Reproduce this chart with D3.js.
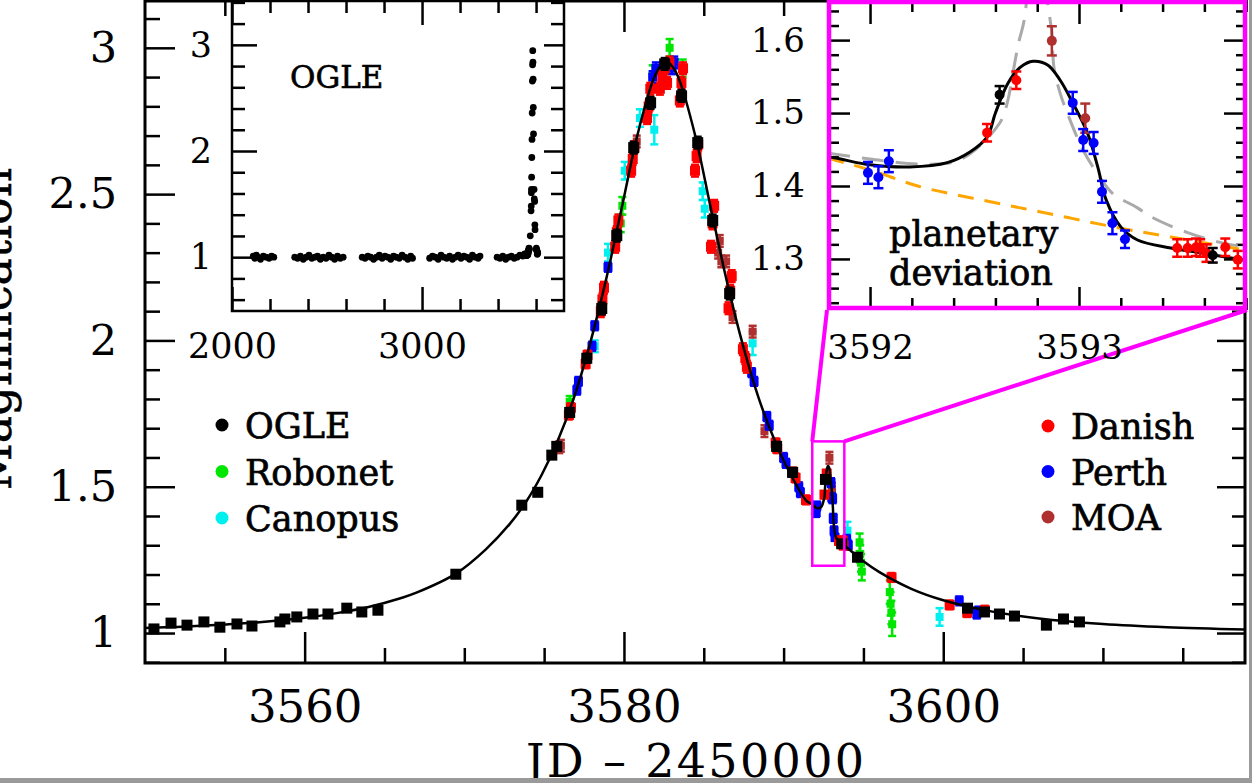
<!DOCTYPE html>
<html><head><meta charset="utf-8">
<script src="https://cdn.jsdelivr.net/npm/d3@7"></script>
<style>body{margin:0;background:#fff;overflow:hidden}svg{display:block}text{font-family:"DejaVu Serif",serif}</style>
</head><body><svg id="c" width="1252" height="783"></svg>
<script>
// ---------- DATA ----------
// OGLE (main event), [day, magnification, error]
const ogle = [[3550.56,1.014,0.01],[3551.63,1.034,0.01],[3552.63,1.027,0.01],[3553.69,1.038,0.01],[3554.69,1.020,0.01],[3555.76,1.031,0.01],[3556.70,1.024,0.01],[3558.45,1.038,0.01],[3558.76,1.048,0.01],[3559.51,1.055,0.01],[3560.52,1.065,0.01],[3561.46,1.065,0.01],[3562.64,1.085,0.01],[3563.58,1.072,0.01],[3564.59,1.078,0.01],[3569.47,1.201,0.01],[3573.60,1.437,0.012],[3574.60,1.481,0.012],[3575.48,1.608,0.012],[3575.79,1.638,0.012],[3576.60,1.754,0.015],[3577.67,1.939,0.015],[3578.61,2.109,0.02],[3579.55,2.358,0.02],[3580.61,2.659,0.02],[3581.67,2.812,0.02],[3582.55,2.945,0.02],[3583.61,2.836,0.02],[3584.62,2.676,0.02],[3585.56,2.410,0.02],[3586.62,2.160,0.02],[3589.56,1.638,0.015],[3590.56,1.549,0.015],[3592.62,1.525,0.012],[3593.64,1.305,0.01],[3594.63,1.259,0.01],[3601.52,1.085,0.01],[3602.58,1.072,0.01],[3603.52,1.065,0.01],[3604.46,1.058,0.01],[3606.46,1.027,0.01],[3607.53,1.048,0.01],[3608.53,1.038,0.01]];
const danish = [[3576.55,1.745,0.015],[3576.68,1.77,0.015],[3577.6,1.92,0.015],[3577.72,1.95,0.015],[3578.55,2.10,0.02],[3578.65,2.14,0.02],[3578.75,2.18,0.02],[3579.45,2.32,0.02],[3579.55,2.37,0.02],[3579.65,2.41,0.02],[3580.45,2.58,0.02],[3580.55,2.62,0.02],[3580.65,2.66,0.02],[3581.45,2.76,0.02],[3581.55,2.80,0.02],[3581.65,2.86,0.02],[3582.25,2.86,0.02],[3582.4,2.90,0.02],[3582.55,2.93,0.02],[3582.7,2.88,0.02],[3582.85,2.95,0.02],[3583.5,2.82,0.02],[3583.6,2.88,0.02],[3583.7,2.93,0.02],[3584.45,2.58,0.02],[3584.55,2.63,0.02],[3584.65,2.67,0.02],[3585.45,2.32,0.02],[3585.55,2.40,0.02],[3585.65,2.46,0.02],[3586.55,2.11,0.02],[3586.65,2.17,0.02],[3586.75,2.22,0.02],[3587.45,1.97,0.02],[3587.6,1.94,0.02],[3587.7,1.91,0.02],[3589.5,1.65,0.015],[3589.6,1.63,0.015],[3590.6,1.55,0.015],[3590.75,1.53,0.015],[3591.4,1.455,0.015],[3592.56,1.473,0.012],[3592.70,1.545,0.012],[3593.47,1.315,0.012],[3593.52,1.315,0.012],[3593.56,1.316,0.012],[3593.58,1.315,0.012],[3593.61,1.308,0.012],[3593.70,1.316,0.012],[3593.76,1.299,0.012],[3596.76,1.19,0.015],[3600.4,1.096,0.015],[3601.5,1.07,0.015],[3602.6,1.078,0.015]];
const perth = [[3577.05,1.83,0.015],[3577.15,1.86,0.015],[3578.0,1.98,0.015],[3578.17,2.05,0.015],[3579.0,2.25,0.015],[3581.8,2.90,0.02],[3582.0,2.93,0.02],[3583.0,2.93,0.02],[3583.15,2.95,0.02],[3588.0,1.89,0.015],[3588.15,1.86,0.015],[3588.95,1.74,0.015],[3589.1,1.71,0.015],[3590.0,1.60,0.015],[3590.15,1.58,0.015],[3590.95,1.50,0.015],[3591.05,1.48,0.015],[3591.99,1.418,0.015],[3592.04,1.412,0.015],[3592.09,1.434,0.015],[3592.97,1.514,0.015],[3593.02,1.463,0.015],[3593.07,1.459,0.015],[3593.11,1.392,0.015],[3593.16,1.349,0.015],[3593.22,1.327,0.012],[3593.95,1.32,0.015],[3594.05,1.30,0.015],[3601.0,1.11,0.015],[3602.1,1.065,0.015],[3602.2,1.075,0.015]];
const robonet = [[3576.6,1.79,0.02],[3579.8,2.40,0.03],[3579.9,2.46,0.03],[3581.8,2.91,0.03],[3582.86,3.00,0.03],[3583.68,2.93,0.03],[3594.76,1.31,0.03],[3594.8,1.27,0.03],[3594.85,1.24,0.03],[3594.9,1.21,0.03],[3596.65,1.14,0.04],[3596.7,1.10,0.04],[3596.75,1.07,0.04],[3596.8,1.03,0.04]];
const canopus = [[3578.17,1.98,0.02],[3579.0,2.30,0.03],[3580.05,2.58,0.03],[3581.0,2.76,0.03],[3581.9,2.72,0.05],[3584.93,2.51,0.03],[3585.06,2.45,0.03],[3588.06,1.99,0.04],[3594.0,1.35,0.03],[3599.77,1.055,0.03]];
const moa = [[3575.95,1.635,0.02],[3576.05,1.64,0.02],[3580.8,2.68,0.02],[3585.9,2.30,0.02],[3586.0,2.34,0.02],[3586.1,2.27,0.02],[3586.4,2.27,0.02],[3586.8,2.08,0.02],[3588.06,2.03,0.02],[3588.8,1.69,0.02],[3592.87,1.599,0.02],[3593.03,1.493,0.02]];

// model curves
const modelDay = [3550,3552,3555,3557,3560,3562,3564,3566,3567,3569.5,3571.35,3572.85,3573.85,3574.85,3575.85,3576.85,3577.85,3578.85,3579.85,3580.85,3581.85,3582.25,3582.65,3583.05,3583.45,3584.45,3585.45,3586.45,3587.45,3588.45,3589.45,3590.45,3591.45,3591.80,3592.00,3592.19,3592.37,3592.48,3592.56,3592.60,3592.66,3592.72,3592.78,3592.85,3592.91,3592.97,3593.04,3593.09,3593.13,3593.20,3593.28,3593.44,3593.59,3593.78,3594,3595,3596,3598,3600,3603,3606,3610,3614,3619];
const modelMag = [1.017,1.021,1.029,1.036,1.052,1.068,1.089,1.119,1.138,1.204,1.286,1.373,1.447,1.541,1.657,1.801,1.984,2.201,2.450,2.703,2.893,2.935,2.955,2.935,2.893,2.703,2.450,2.201,1.984,1.801,1.657,1.541,1.451,1.440,1.429,1.426,1.432,1.447,1.467,1.500,1.541,1.563,1.571,1.566,1.545,1.514,1.473,1.426,1.381,1.344,1.326,1.315,1.308,1.299,1.291,1.245,1.208,1.151,1.112,1.074,1.050,1.031,1.020,1.012];
const pointLensDay = [3591.80,3592.00,3592.24,3592.48,3592.72,3592.96,3593.20,3593.44,3593.80];
const pointLensMag = [1.438,1.422,1.399,1.384,1.370,1.356,1.342,1.330,1.312];
const altModelDay = [3591.80,3592.00,3592.24,3592.43,3592.62,3592.66,3592.68,3592.71,3592.74,3592.79,3592.85,3592.87,3592.88,3592.91,3592.94,3593.02,3593.10,3593.16,3593.28,3593.35,3593.52,3593.67,3593.80];
const altModelMag = [1.445,1.437,1.430,1.436,1.486,1.518,1.549,1.595,1.631,1.80,1.651,1.61,1.563,1.527,1.503,1.449,1.412,1.390,1.370,1.357,1.336,1.323,1.316];

// OGLE baseline seasons (inset)
const baseDay = [2112,2120,2128,2136,2150,2165,2180,2195,2208,2220,
 2330,2345,2360,2375,2390,2405,2420,2435,2450,2465,2480,2495,2510,2525,2540,2555,2570,2585,
 2685,2700,2715,2730,2745,2760,2775,2790,2805,2820,2835,2850,2865,2880,2895,2910,2925,2940,2950,
 3040,3055,3070,3085,3100,3115,3130,3145,3160,3175,3190,3205,3220,3235,3250,3265,3280,3295,3305,
 3395,3410,3425,3440,3455,3470,3485,3500,3515,3530,3540];
const baseMag = [1.01,0.99,1.02,1.00,0.98,1.01,1.00,0.99,1.01,1.00,
 1.00,0.99,1.01,0.98,1.00,1.02,0.99,1.00,1.01,0.98,1.00,0.99,1.02,1.00,0.98,1.01,0.99,1.00,
 1.00,0.99,1.01,1.00,0.98,1.00,1.02,0.99,1.01,1.00,0.98,1.01,1.00,0.99,1.02,1.00,0.98,1.01,0.99,
 0.99,1.01,1.00,0.98,1.02,1.00,0.99,1.01,0.98,1.00,1.02,0.99,1.01,1.00,0.98,1.02,1.00,0.99,1.01,
 1.00,0.99,1.01,0.98,1.00,1.01,0.99,1.00,1.02,1.01,1.03];

// ticks & labels
const mainXMajor = [3560,3580,3600];
const mainXMinor = [3555,3565,3570,3575,3585,3590,3595,3605,3610,3615];
const mainYMajor = [1,1.5,2,2.5,3];
const mainYMinor = [0.9,1.1,1.2,1.3,1.4,1.6,1.7,1.8,1.9,2.1,2.2,2.3,2.4,2.6,2.7,2.8,2.9,3.1];
const lxMajor = [2000,3000], lxMinor = [2200,2400,2600,2800,3200,3400,3600];
const lyMajor = [1,2,3], lyMinor = [0.6,0.8,1.2,1.4,1.6,1.8,2.2,2.4,2.6,2.8,3.2,3.4];
const rxMajor = [3592,3593], rxMinor = [3591.8,3592.2,3592.4,3592.6,3592.8,3593.2,3593.4,3593.6,3593.8];
const ryMajor = [1.3,1.4,1.5,1.6];
const ryMinor = [1.24,1.26,1.28,1.32,1.34,1.36,1.38,1.42,1.44,1.46,1.48,1.52,1.54,1.56,1.58,1.62,1.64];
const legendLeft = [["OGLE","#000000"],["Robonet","#00e600"],["Canopus","#00f0f0"]];
const legendRight = [["Danish","#ff0000"],["Perth","#0000ff"],["MOA","#b03030"]];
const xTitle = "JD \u2013 2450000", yTitle = "Magnification";

// ---------- DRAW ----------
const svg = d3.select("#c");
const FONT = "DejaVu Serif";
const C = {ogle:"#000000", danish:"#ff0000", perth:"#0000ff", robonet:"#00e600", canopus:"#00f0f0", moa:"#b03030"};

const x = d3.scaleLinear().domain([3550, 3618.9]).range([145, 1245]);
const y = d3.scaleLinear().domain([0.8976, 3.160]).range([663, 1]);

function axis(g, gen, vals, size, fmt, pad, fs) {
  g.call(gen.tickValues(vals).tickSize(size).tickPadding(pad).tickFormat(fmt || (() => "")));
  g.select(".domain").remove();
  g.attr("font-family", FONT);
  g.selectAll("line").attr("stroke", "#000").attr("stroke-width", 2.5);
  g.selectAll("text").attr("font-family", FONT).attr("font-size", fs).attr("fill", "#000");
}
const fmtNum = d => String(d);

svg.append("clipPath").attr("id","cm").append("rect").attr("x",145).attr("y",1).attr("width",1100).attr("height",662);

// main axes
const gm = svg.append("g");
axis(gm.append("g").attr("transform","translate(0,663)"), d3.axisBottom(x), mainXMajor, -31, fmtNum, 27, 45);
axis(gm.append("g").attr("transform","translate(0,663)"), d3.axisBottom(x), mainXMinor, -15, null, 0, 10);
axis(gm.append("g").attr("transform","translate(0,1)"), d3.axisTop(x), mainXMajor, -31, null, 0, 10);
axis(gm.append("g").attr("transform","translate(0,1)"), d3.axisTop(x), mainXMinor, -15, null, 0, 10);
axis(gm.append("g").attr("transform","translate(145,0)"), d3.axisLeft(y), mainYMajor, -30, fmtNum, 28, 43);
axis(gm.append("g").attr("transform","translate(145,0)"), d3.axisLeft(y), mainYMinor, -15, null, 0, 10);
axis(gm.append("g").attr("transform","translate(1245,0)"), d3.axisRight(y), mainYMajor, -28, null, 0, 10);
axis(gm.append("g").attr("transform","translate(1245,0)"), d3.axisRight(y), mainYMinor, -13, null, 0, 10);

svg.append("text").attr("x",695).attr("y",777).attr("text-anchor","middle").attr("font-size",46)
  .attr("textLength",338).attr("lengthAdjust","spacing").text(xTitle);
svg.append("text").attr("transform","translate(11,329) rotate(-90)").attr("text-anchor","middle").attr("font-size",46)
  .attr("stroke","#000").attr("stroke-width",0.5).text(yTitle);

// main data
const gd = svg.append("g").attr("clip-path","url(#cm)");
function points(g, data, sx, sy, color, shape, sz, cap, sw) {
  const gg = g.append("g");
  gg.selectAll("line.e").data(data).join("line").attr("x1",d=>sx(d[0])).attr("x2",d=>sx(d[0]))
    .attr("y1",d=>sy(d[1]-d[2])).attr("y2",d=>sy(d[1]+d[2])).attr("stroke",color).attr("stroke-width",sw);
  [1,-1].forEach(s => gg.selectAll("line.c"+s).data(data).join("line").attr("x1",d=>sx(d[0])-cap).attr("x2",d=>sx(d[0])+cap)
    .attr("y1",d=>sy(d[1]+s*d[2])).attr("y2",d=>sy(d[1]+s*d[2])).attr("stroke",color).attr("stroke-width",sw));
  if (shape === "sq") {
    gg.selectAll("rect").data(data).join("rect").attr("x",d=>sx(d[0])-sz/2).attr("y",d=>sy(d[1])-sz/2)
      .attr("width",sz).attr("height",sz).attr("fill",color);
  } else {
    gg.selectAll("circle").data(data).join("circle").attr("cx",d=>sx(d[0])).attr("cy",d=>sy(d[1])).attr("r",sz).attr("fill",color);
  }
}
const lineGen = (sx, sy) => d3.line().x(d=>sx(d[0])).y(d=>sy(d[1])).curve(d3.curveCatmullRom.alpha(0.5));
const model = modelDay.map((d,i)=>[d, modelMag[i]]);
points(gd, robonet, x, y, C.robonet, "sq", 8, 4, 2.5);
points(gd, canopus, x, y, C.canopus, "sq", 8, 4, 2.5);
points(gd, moa, x, y, C.moa, "sq", 8, 4, 2.5);
points(gd, perth, x, y, C.perth, "sq", 9, 4, 2.5);
points(gd, danish, x, y, C.danish, "sq", 10, 4, 2.5);
gd.append("path").attr("d", lineGen(x,y)(model)).attr("fill","none").attr("stroke","#000").attr("stroke-width",2.5);
points(gd, ogle, x, y, C.ogle, "sq", 11, 4, 2.5);

svg.append("rect").attr("x",145).attr("y",1).attr("width",1100).attr("height",662).attr("fill","none").attr("stroke","#000").attr("stroke-width",3);

// legends
legendLeft.forEach((d,i)=>{
  svg.append("circle").attr("cx",222).attr("cy",425+i*46.5).attr("r",6.5).attr("fill",d[1]);
  svg.append("text").attr("x",245).attr("y",425+i*46.5+13).attr("font-size",35).attr("stroke","#000").attr("stroke-width",0.7).text(d[0]);
});
legendRight.forEach((d,i)=>{
  svg.append("circle").attr("cx",1048).attr("cy",426+i*45.5).attr("r",6.5).attr("fill",d[1]);
  svg.append("text").attr("x",1071).attr("y",426+i*45.5+13).attr("font-size",35).attr("stroke","#000").attr("stroke-width",0.7).text(d[0]);
});

// ---------- right inset (zoom) ----------
const xr = d3.scaleLinear().domain([3591.794, 3593.804]).range([827, 1247]);
const yr = d3.scaleLinear().domain([1.230, 1.655]).range([310, 0]);
const MAG = "#ff00ff";
svg.append("rect").attr("x",x(xr.domain()[0])).attr("y",y(yr.domain()[1])).attr("width",x(xr.domain()[1])-x(xr.domain()[0]))
  .attr("height",y(yr.domain()[0])-y(yr.domain()[1])).attr("fill","none").attr("stroke",MAG).attr("stroke-width",2.5);
svg.append("line").attr("x1",x(xr.domain()[0])).attr("y1",y(yr.domain()[1])).attr("x2",827).attr("y2",310).attr("stroke",MAG).attr("stroke-width",4);
svg.append("line").attr("x1",x(xr.domain()[1])).attr("y1",y(yr.domain()[1])).attr("x2",1247).attr("y2",310).attr("stroke",MAG).attr("stroke-width",4);

const gr = svg.append("g");
gr.append("rect").attr("x",827).attr("y",0).attr("width",420).attr("height",310).attr("fill","#fff");
svg.append("clipPath").attr("id","cr").append("rect").attr("x",827).attr("y",0).attr("width",420).attr("height",310);
axis(gr.append("g").attr("transform","translate(0,310)"), d3.axisBottom(xr), rxMajor, -23, fmtNum, 25, 34);
axis(gr.append("g").attr("transform","translate(0,310)"), d3.axisBottom(xr), rxMinor, -12, null, 0, 10);
axis(gr.append("g").attr("transform","translate(0,0)"), d3.axisTop(xr), rxMajor, -24, null, 0, 10);
axis(gr.append("g").attr("transform","translate(0,0)"), d3.axisTop(xr), rxMinor, -12, null, 0, 10);
axis(gr.append("g").attr("transform","translate(827,0)"), d3.axisLeft(yr), ryMajor, -23, fmtNum, 22, 34);
axis(gr.append("g").attr("transform","translate(827,0)"), d3.axisLeft(yr), ryMinor, -12, null, 0, 10);
axis(gr.append("g").attr("transform","translate(1247,0)"), d3.axisRight(yr), ryMajor, -23, null, 0, 10);
axis(gr.append("g").attr("transform","translate(1247,0)"), d3.axisRight(yr), ryMinor, -11, null, 0, 10);
const grd = gr.append("g").attr("clip-path","url(#cr)");
grd.append("path").attr("d", lineGen(xr,yr)(altModelDay.map((d,i)=>[d, altModelMag[i]]))).attr("fill","none")
  .attr("stroke","#aaaaaa").attr("stroke-width",3).attr("stroke-dasharray","22,12");
grd.append("path").attr("d", lineGen(xr,yr)(pointLensDay.map((d,i)=>[d, pointLensMag[i]]))).attr("fill","none")
  .attr("stroke","#ffa500").attr("stroke-width",3).attr("stroke-dasharray","16,11");
grd.append("path").attr("d", lineGen(xr,yr)(model)).attr("fill","none").attr("stroke","#000").attr("stroke-width",3);
points(grd, moa, xr, yr, C.moa, "ci", 5, 5, 2.5);
points(grd, perth, xr, yr, C.perth, "ci", 5, 5, 2.5);
points(grd, danish, xr, yr, C.danish, "ci", 5, 5, 2.5);
points(grd, ogle, xr, yr, C.ogle, "ci", 5, 5, 2.5);
gr.append("text").attr("x",889).attr("y",246).attr("font-size",35).attr("stroke","#000").attr("stroke-width",0.7).text("planetary");
gr.append("text").attr("x",889).attr("y",285).attr("font-size",35).attr("stroke","#000").attr("stroke-width",0.7).text("deviation");
gr.append("rect").attr("x",829).attr("y",2).attr("width",416).attr("height",306).attr("fill","none").attr("stroke",MAG).attr("stroke-width",4.5);

// ---------- left inset (OGLE full) ----------
const xl = d3.scaleLinear().domain([2000, 3747]).range([232, 564]);
const yl = d3.scaleLinear().domain([0.493, 3.413]).range([311, 1]);
const gl = svg.append("g");
gl.append("rect").attr("x",232).attr("y",1).attr("width",332).attr("height",310).attr("fill","#fff");
axis(gl.append("g").attr("transform","translate(0,311)"), d3.axisBottom(xl), lxMajor, -24, fmtNum, 22, 35);
axis(gl.append("g").attr("transform","translate(0,311)"), d3.axisBottom(xl), lxMinor, -12, null, 0, 10);
axis(gl.append("g").attr("transform","translate(0,1)"), d3.axisTop(xl), lxMajor, -24, null, 0, 10);
axis(gl.append("g").attr("transform","translate(0,1)"), d3.axisTop(xl), lxMinor, -12, null, 0, 10);
axis(gl.append("g").attr("transform","translate(232,0)"), d3.axisLeft(yl), lyMajor, -25, fmtNum, 20, 35);
axis(gl.append("g").attr("transform","translate(232,0)"), d3.axisLeft(yl), lyMinor, -13, null, 0, 10);
axis(gl.append("g").attr("transform","translate(564,0)"), d3.axisRight(yl), lyMajor, -20, null, 0, 10);
axis(gl.append("g").attr("transform","translate(564,0)"), d3.axisRight(yl), lyMinor, -13, null, 0, 10);
const allOgle = baseDay.map((d,i)=>[d, baseMag[i]]).concat(ogle.map(d=>[d[0], d[1]]));
gl.append("g").selectAll("circle").data(allOgle).join("circle").attr("cx",d=>xl(d[0])).attr("cy",d=>yl(d[1])).attr("r",3.4).attr("fill","#000");
gl.append("text").attr("x",290).attr("y",88).attr("font-size",31).attr("stroke","#000").attr("stroke-width",0.6).text("OGLE");
gl.append("rect").attr("x",232).attr("y",1).attr("width",332).attr("height",310).attr("fill","none").attr("stroke","#000").attr("stroke-width",2.5);

// image border
svg.append("rect").attr("x",0).attr("y",778).attr("width",1252).attr("height",5).attr("fill","#9a9a9a");
svg.append("rect").attr("x",1249).attr("y",0).attr("width",3).attr("height",783).attr("fill","#9a9a9a");
</script></body></html>
